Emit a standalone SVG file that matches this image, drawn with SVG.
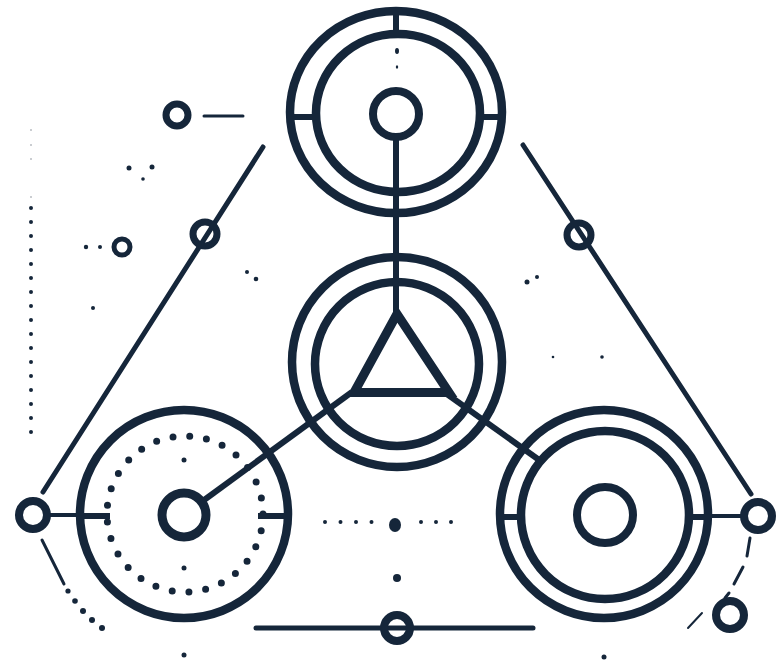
<svg xmlns="http://www.w3.org/2000/svg" width="784" height="662" viewBox="0 0 784 662">
<style>
.s{fill:none;stroke:#15263a;stroke-linecap:round}
.ring{stroke-width:8.5}
.ln{stroke-width:6;stroke-linecap:butt}
.thin{stroke-width:4}
.d{fill:#15263a}
</style>
<rect width="784" height="662" fill="#ffffff"/>
<g id="connectors">
  <line class="s ln" x1="396" y1="137" x2="396" y2="312"/>
  <line class="s ln" x1="352" y1="392" x2="200" y2="503"/>
  <line class="s ln" x1="444" y1="392" x2="542" y2="462"/>
  <line class="s" stroke-width="5" x1="263" y1="147" x2="43" y2="492"/>
  <line class="s" stroke-width="5" x1="523" y1="145" x2="751" y2="494"/>
  <line class="s thin" x1="46" y1="515" x2="78" y2="515"/>
  <line class="s thin" x1="710" y1="516" x2="745" y2="516"/>
  <line class="s" stroke-width="3" x1="204" y1="116" x2="243" y2="116"/>
  <line class="s" stroke-width="5" x1="256" y1="628" x2="533" y2="628"/>
</g>
<g id="node-top">
  <ellipse class="s ring" cx="396" cy="112" rx="106" ry="101"/>
  <ellipse class="s ring" cx="398" cy="113" rx="82" ry="79"/>
  <line class="s ln" x1="396" y1="12" x2="396" y2="34"/>
  <line class="s ln" x1="291" y1="117" x2="317" y2="117"/>
  <line class="s ln" x1="479" y1="117" x2="501" y2="117"/>
  <circle class="s" stroke-width="8" cx="396" cy="114" r="23" fill="#fff"/>
  <ellipse class="d" cx="397" cy="51" rx="2" ry="3"/>
  <ellipse class="d" cx="397" cy="67" rx="1.2" ry="1.8"/>
</g>
<g id="node-center">
  <circle class="s ring" cx="397" cy="362" r="105"/>
  <circle class="s ring" cx="397" cy="364" r="82"/>
  <polygon class="s" stroke-width="9" stroke-linejoin="miter" points="397,314 354,392.5 449,392.5"/>
</g>
<g id="node-left">
  <circle class="s ring" cx="184" cy="514" r="104"/>
  <circle class="s" stroke-width="7" stroke-dasharray="0 16.9" cx="185" cy="514" r="78"/>
  <circle class="d" cx="184" cy="460" r="2.5"/>
  <circle class="d" cx="184" cy="568" r="2.5"/>
  <line class="s ln" x1="84" y1="516" x2="110" y2="516"/>
  <line class="s ln" x1="258" y1="516" x2="285" y2="516"/>
  <circle class="s" stroke-width="9" cx="184" cy="515" r="22" fill="#fff"/>
</g>
<g id="node-right">
  <circle class="s ring" cx="604" cy="514" r="104"/>
  <circle class="s ring" cx="605" cy="515" r="84"/>
  <line class="s ln" x1="503" y1="517" x2="520" y2="517"/>
  <line class="s ln" x1="690" y1="517" x2="712" y2="517"/>
  <circle class="s" stroke-width="8" cx="605" cy="515" r="28"/>
</g>
<g id="node-left-small">
  <circle class="s" stroke-width="8" cx="33" cy="515" r="14" fill="#fff"/>
</g>
<g id="node-right-small">
  <circle class="s" stroke-width="8" cx="758" cy="516" r="14" fill="#fff"/>
</g>
<g id="node-left-mid">
  <circle class="s" stroke-width="7" cx="205" cy="234" r="12" fill="#fff"/>
</g>
<g id="node-right-mid">
  <circle class="s" stroke-width="7" cx="579" cy="235" r="12" fill="#fff"/>
</g>
<g id="node-topleft">
  <circle class="s" stroke-width="7" cx="177" cy="115" r="11" fill="#fff"/>
</g>
<g id="node-small-left">
  <circle class="s" stroke-width="5" cx="122" cy="247" r="8" fill="#fff"/>
</g>
<g id="node-bottom">
  <circle class="s" stroke-width="8" cx="397" cy="628" r="13" fill="#fff"/>
</g>
<g id="node-bottomright-small">
  <circle class="s" stroke-width="8" cx="730" cy="615" r="14" fill="#fff"/>
</g>
<g id="decor">
  <line class="s" stroke-width="4" stroke-dasharray="0 14" x1="31" y1="208" x2="31" y2="446"/>
  <circle cx="31" cy="130" r="1" fill="#b8bcc2"/>
  <circle cx="31" cy="145" r="1" fill="#b8bcc2"/>
  <circle cx="31" cy="159" r="1" fill="#b8bcc2"/>
  <circle cx="31" cy="197" r="1" fill="#b8bcc2"/>
  <circle class="d" cx="129" cy="168" r="2.5"/>
  <circle class="d" cx="152" cy="167" r="2.5"/>
  <circle class="d" cx="143" cy="179" r="1.8"/>
  <circle class="d" cx="86" cy="247" r="2.2"/>
  <circle class="d" cx="100" cy="247" r="2"/>
  <circle class="d" cx="93" cy="308" r="2"/>
  <circle class="d" cx="247" cy="272" r="2"/>
  <circle class="d" cx="256" cy="279" r="2.3"/>
  <circle class="d" cx="527" cy="282" r="2.5"/>
  <circle class="d" cx="537" cy="277" r="2"/>
  <circle class="d" cx="553" cy="357" r="1.3"/>
  <circle class="d" cx="602" cy="357" r="1.8"/>
  <line class="s" stroke-width="4" stroke-dasharray="0 15.5" x1="325" y1="522" x2="375" y2="522"/>
  <line class="s" stroke-width="4" stroke-dasharray="0 15" x1="421" y1="522" x2="466" y2="522"/>
  <ellipse class="d" cx="395" cy="525" rx="6" ry="7"/>
  <circle class="d" cx="397" cy="578" r="4"/>
  <circle class="d" cx="184" cy="655" r="2.5"/>
  <circle class="d" cx="604" cy="657" r="2.5"/>
  <line class="s" stroke-width="3" x1="42" y1="540" x2="64" y2="584"/>
  <g class="d">
    <circle cx="68" cy="591" r="2.6"/>
    <circle cx="75" cy="601" r="2.8"/>
    <circle cx="83" cy="611" r="3"/>
    <circle cx="92" cy="620" r="3"/>
    <circle cx="102" cy="628" r="3"/>
  </g>
  <line class="s" stroke-width="3" x1="750" y1="538" x2="747" y2="556"/>
  <line class="s" stroke-width="3" x1="743" y1="567" x2="734" y2="584"/>
  <line class="s" stroke-width="3" x1="729" y1="593" x2="725" y2="598"/>
  <line class="s" stroke-width="2" x1="702" y1="613" x2="688" y2="628"/>
</g>
</svg>
